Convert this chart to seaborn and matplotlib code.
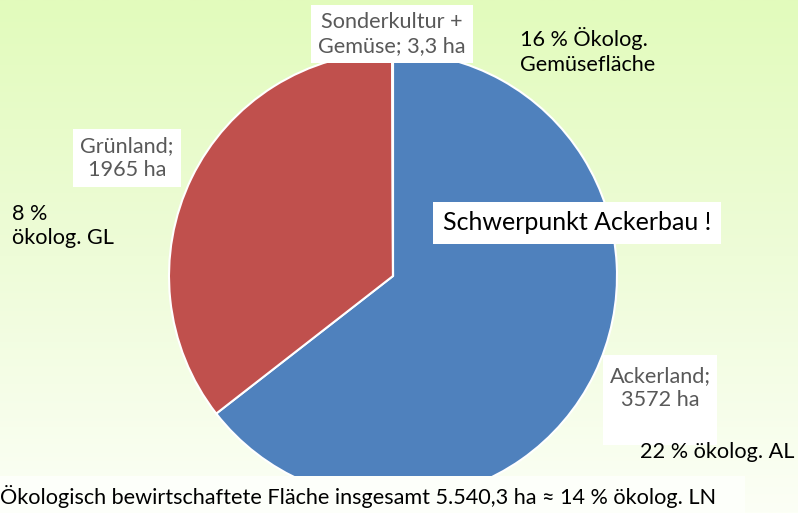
import numpy as np
import matplotlib
matplotlib.use("Agg")
import matplotlib.pyplot as plt
import matplotlib.colors as mcolors
from matplotlib.patches import Rectangle
import seaborn as sns

# Daten
kategorien = ["Ackerland", "Grünland", "Sonderkultur + Gemüse"]
flaechen_ha = [3572, 1965, 3.3]
labels = ["Ackerland;\n3572 ha", "Grünland;\n1965 ha", "Sonderkultur +\nGemüse; 3,3 ha"]
oeko_anteile = ["22 % ökolog. AL", "8 %\nökolog. GL", "16 % Ökolog.\nGemüsefläche"]
hinweis = "Schwerpunkt Ackerbau !"
fusszeile = "Ökologisch bewirtschaftete Fläche insgesamt 5.540,3 ha ≈ 14 % ökolog. LN"

sns.set_theme(style="white")
plt.rcParams['font.family'] = ['Lato', 'DejaVu Sans']

farben = ["#4f81bd", "#c0504d", "#9bbb59"]
grau = "#595959"
FS = 15.6
LS = 1.3

W, H = 798, 513
fig = plt.figure(figsize=(W / 100, H / 100), dpi=100)
ax = fig.add_axes([0, 0, 1, 1])

# Hintergrund: Verlauf hellgruen -> weiss
cmap = mcolors.LinearSegmentedColormap.from_list("bg", ["#fcfff6", "#eefcd8", "#e2fbbc"])
grad = np.linspace(0, 1, 256).reshape(-1, 1)
ax.imshow(grad, extent=(0, W, 0, H), origin='lower', cmap=cmap, aspect='auto', zorder=0)

# Kreisdiagramm
ax.pie(flaechen_ha, colors=farben, startangle=90, counterclock=False,
       center=(393, H - 276), radius=224, frame=True,
       wedgeprops=dict(edgecolor='white', linewidth=1.5, zorder=2))
ax.set_xlim(0, W)
ax.set_ylim(0, H)
ax.axis('off')

box = dict(facecolor='white', edgecolor='none', pad=5)

# Beschriftungen der Segmente (grau, weisse Box)
ax.text(392, H - 34, labels[2], ha='center', va='center', color=grau, fontsize=FS,
        linespacing=LS, bbox=box, zorder=5)
ax.text(127, H - 158, labels[1], ha='center', va='center', color=grau, fontsize=FS,
        linespacing=LS, bbox=box, zorder=5)
ax.add_patch(Rectangle((603, H - 445), 114, 90, facecolor='white', edgecolor='none', zorder=4))
ax.text(660, H - 388, labels[0], ha='center', va='center', color=grau, fontsize=FS,
        linespacing=LS, zorder=5)

# Oeko-Anteile (schwarz)
ax.text(520, H - 51, oeko_anteile[2], ha='left', va='center', color='black', fontsize=FS,
        linespacing=LS, zorder=5)
ax.text(12, H - 226, oeko_anteile[1], ha='left', va='center', color='black', fontsize=FS,
        linespacing=LS, zorder=5)
ax.text(640, H - 452, oeko_anteile[0], ha='left', va='center', color='black', fontsize=FS,
        zorder=5)

# Hinweis
ax.text(443, H - 223, hinweis, ha='left', va='center', color='black', fontsize=18,
        bbox=dict(facecolor='white', edgecolor='none', pad=7), zorder=5)

# Fusszeile mit weissem Streifen
ax.add_patch(Rectangle((0, 0), 745, H - 476, facecolor='#fdfffa', edgecolor='none', zorder=4))
ax.text(0, H - 497, fusszeile, ha='left', va='center', color='black', fontsize=FS,
        zorder=6)

fig.savefig("out.png", dpi=100)
